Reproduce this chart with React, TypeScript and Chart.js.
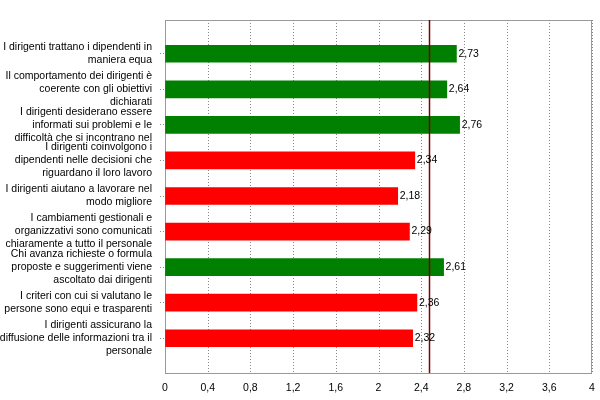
import React, { useEffect, useRef } from "react";
import { Chart, registerables } from "chart.js";

Chart.register(...registerables);

const categories: string[][] = [
  ["I dirigenti trattano i dipendenti in", "maniera equa"],
  ["Il comportamento dei dirigenti è", "coerente con gli obiettivi", "dichiarati"],
  ["I dirigenti desiderano essere", "informati sui problemi e le", "difficoltà che si incontrano nel"],
  ["I dirigenti coinvolgono i", "dipendenti nelle decisioni che", "riguardano il loro lavoro"],
  ["I dirigenti aiutano a lavorare nel", "modo migliore"],
  ["I cambiamenti gestionali e", "organizzativi sono comunicati", "chiaramente a tutto il personale"],
  ["Chi avanza richieste o formula", "proposte e suggerimenti viene", "ascoltato dai dirigenti"],
  ["I criteri con cui si valutano le", "persone sono equi e trasparenti"],
  ["I dirigenti assicurano la", "diffusione delle informazioni tra il", "personale"],
];
const values: number[] = [2.73, 2.64, 2.76, 2.34, 2.18, 2.29, 2.61, 2.36, 2.32];
const averageValue = 2.47;
const xMin = 0;
const xMax = 4;
const xStep = 0.4;

const GREEN = "#008000";
const RED = "#FF0000";
const barColors = values.map((v) => (v >= averageValue ? GREEN : RED));

const FONT = "'Liberation Sans', Arial, sans-serif";
const fmt = (v: number) => Number(v.toFixed(2)).toString().replace(".", ",");

// extra room (px) of the plot frame above and below the category band
const EXT_TOP = 16;
const EXT_BOTTOM = 17;

const overlayPlugin = {
  id: "overlay",
  beforeDatasetsDraw(chart: any) {
    const { ctx, chartArea, scales } = chart;
    const top = chartArea.top - EXT_TOP;
    const bottom = chartArea.bottom + EXT_BOTTOM;
    ctx.save();
    ctx.strokeStyle = "#888888";
    ctx.lineWidth = 1;
    ctx.setLineDash([1, 2]);
    scales.x.ticks.forEach((t: any) => {
      const x = Math.round(scales.x.getPixelForValue(t.value)) + 0.5;
      ctx.beginPath();
      ctx.moveTo(x, top);
      ctx.lineTo(x, bottom);
      ctx.stroke();
    });
    ctx.setLineDash([]);
    ctx.strokeStyle = "#999999";
    ctx.strokeRect(
      Math.round(chartArea.left) + 0.5,
      Math.round(top) + 0.5,
      Math.round(chartArea.right - chartArea.left) - 1,
      Math.round(bottom - top)
    );
    ctx.restore();
  },
  afterDatasetsDraw(chart: any) {
    const { ctx, chartArea, scales } = chart;
    const top = chartArea.top - EXT_TOP;
    const bottom = chartArea.bottom + EXT_BOTTOM;
    ctx.save();
    const ax = Math.round(scales.x.getPixelForValue(averageValue)) + 0.5;
    ctx.strokeStyle = "#800000";
    ctx.lineWidth = 1.5;
    ctx.beginPath();
    ctx.moveTo(ax, top);
    ctx.lineTo(ax, bottom);
    ctx.stroke();
    ctx.fillStyle = "#000000";
    ctx.font = "10.5px " + FONT;
    ctx.textAlign = "left";
    ctx.textBaseline = "middle";
    const meta = chart.getDatasetMeta(0);
    meta.data.forEach((bar: any, i: number) => {
      ctx.fillText(fmt(values[i]), bar.x + 2, bar.y);
    });
    ctx.restore();
  },
};

export default function App() {
  const ref = useRef<HTMLCanvasElement>(null);
  useEffect(() => {
    if (!ref.current) return;
    const chart = new Chart(ref.current, {
      type: "bar",
      data: {
        labels: categories,
        datasets: [
          {
            data: values,
            backgroundColor: barColors,
            borderWidth: 0,
            barThickness: 17,
          },
        ],
      },
      options: {
        indexAxis: "y",
        animation: false,
        responsive: false,
        maintainAspectRatio: false,
        layout: { padding: { left: 0, right: 8, top: 36, bottom: 0 } },
        plugins: {
          legend: { display: false },
          tooltip: { enabled: false },
        },
        scales: {
          x: {
            min: xMin,
            max: xMax,
            border: { display: false },
            ticks: {
              stepSize: xStep,
              color: "#000000",
              font: { family: FONT, size: 10.5 },
              padding: 26,
              maxRotation: 0,
              minRotation: 0,
              callback: (v: any) => Number(Number(v).toFixed(1)).toString().replace(".", ","),
            },
            grid: {
              drawOnChartArea: false,
              drawTicks: false,
            },
            afterFit: (scale: any) => {
              scale.height = 44;
              scale.paddingLeft = 0;
              scale.paddingRight = 0;
            },
          },
          y: {
            border: { display: false },
            ticks: {
              color: "#000000",
              font: { family: FONT, size: 10.5, lineHeight: 1.24 },
              padding: 8,
              autoSkip: false,
            },
            grid: {
              offset: false,
              drawOnChartArea: false,
              drawTicks: true,
              tickLength: 5,
              color: "#888888",
              tickBorderDash: [1, 2],
            },
            afterFit: (scale: any) => {
              scale.width = 165;
              scale.paddingTop = 0;
              scale.paddingBottom = 0;
            },
          },
        },
      },
      plugins: [overlayPlugin],
    });
    return () => chart.destroy();
  }, []);
  return (
    <div style={{ position: "fixed", left: 0, top: 0, width: 600, height: 400, background: "#fff" }}>
      <canvas ref={ref} width={600} height={400} style={{ width: 600, height: 400 }} />
    </div>
  );
}
